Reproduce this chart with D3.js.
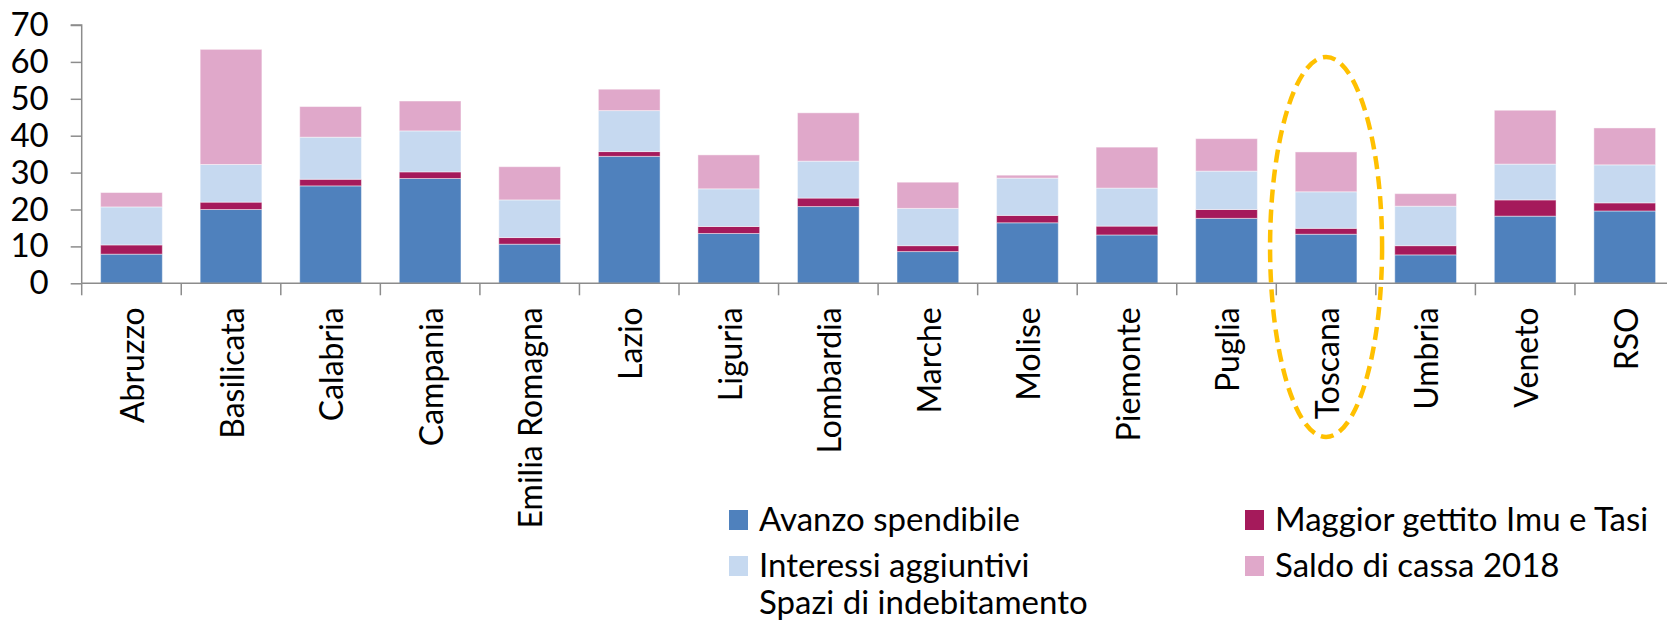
<!DOCTYPE html>
<html>
<head>
<meta charset="utf-8">
<script src="https://cdn.jsdelivr.net/npm/d3@7"></script>
<style>
  html, body { margin: 0; padding: 0; background: #fff; }
  svg { display: block; font-family: Lato, 'Open Sans', sans-serif; }
</style>
</head>
<body>
<svg id="chart" width="1667" height="623"></svg>
<script>
const regions = ['Abruzzo', 'Basilicata', 'Calabria', 'Campania', 'Emilia Romagna', 'Lazio', 'Liguria',
  'Lombardia', 'Marche', 'Molise', 'Piemonte', 'Puglia', 'Toscana', 'Umbria', 'Veneto', 'RSO'];

// stacked bottom -> top
const avanzo   = [7.9, 20.0, 26.4, 28.4, 10.6, 34.4, 13.5, 20.8, 8.6, 16.4, 13.1, 17.6, 13.3, 7.7, 18.2, 19.6];
const imuTasi  = [2.5, 2.0, 1.8, 1.8, 1.8, 1.3, 1.9, 2.3, 1.6, 2.0, 2.4, 2.4, 1.6, 2.5, 4.4, 2.2];
const interessi = [10.3, 10.2, 11.4, 11.1, 10.2, 11.1, 10.2, 10.0, 10.1, 10.1, 10.3, 10.4, 9.9, 10.7, 9.7, 10.3];
const saldo    = [3.9, 31.2, 8.3, 8.1, 9.0, 5.8, 9.2, 13.1, 7.1, 0.8, 11.1, 8.8, 10.8, 3.4, 14.6, 10.0];

const yTicks = [0, 10, 20, 30, 40, 50, 60, 70];
const highlighted = 'Toscana';

const seriesKeys = ['avanzo', 'imuTasi', 'interessi', 'saldo'];
const seriesColors = { avanzo: '#4f81bd', imuTasi: '#a51a5b', interessi: '#c6d9f0', saldo: '#e0a8ca' };

// legend, row by row like the original
const legendItems = [
  { label: 'Avanzo spendibile', color: '#4f81bd' },
  { label: 'Maggior gettito Imu e Tasi', color: '#a51a5b' },
  { label: 'Interessi aggiuntivi', color: '#c6d9f0' },
  { label: 'Saldo di cassa 2018', color: '#e0a8ca' },
  { label: 'Spazi di indebitamento', color: null },
];

const table = regions.map((name, i) => ({
  name, avanzo: avanzo[i], imuTasi: imuTasi[i], interessi: interessi[i], saldo: saldo[i],
}));

const svg = d3.select('#chart');
const axisColor = '#8c8c8c';
const fontSize = 32;

const left = 81.7;
const step = 99.55;
const x = d3.scaleBand()
  .domain(regions)
  .range([left, left + step * regions.length])
  .paddingInner(0.38)
  .paddingOuter(0.19);

const y = d3.scaleLinear().domain([0, 70]).range([283.3, 25]);

const stack = d3.stack().keys(seriesKeys)(table);

svg.append('g')
  .selectAll('g')
  .data(stack)
  .join('g')
  .attr('fill', (d) => seriesColors[d.key])
  .selectAll('rect')
  .data((d) => d)
  .join('rect')
  .attr('x', (d) => x(d.data.name))
  .attr('width', x.bandwidth())
  .attr('y', (d) => y(d[1]))
  .attr('height', (d) => y(d[0]) - y(d[1]))
  .attr('stroke', '#ffffff')
  .attr('stroke-opacity', 0.45)
  .attr('stroke-width', 1);

// y axis
const yAxis = svg.append('g')
  .attr('transform', `translate(${left},0)`)
  .call(d3.axisLeft(y).tickValues(yTicks).tickSize(11).tickPadding(22).tickFormat(d3.format('d')));
yAxis.select('.domain').attr('stroke', axisColor).attr('stroke-width', 1.5).attr('d', `M-11,${y(70)}H0V${y(0)}`);
yAxis.selectAll('.tick line').attr('stroke', axisColor).attr('stroke-width', 1.5);
yAxis.selectAll('.tick text')
  .attr('fill', '#000')
  .attr('font-size', 33)
  .attr('font-family', 'Lato, sans-serif');

// x axis: ticks at category boundaries
const xAxisG = svg.append('g');
xAxisG.append('line')
  .attr('x1', left).attr('x2', 1667)
  .attr('y1', y(0)).attr('y2', y(0))
  .attr('stroke', axisColor).attr('stroke-width', 1.5);
xAxisG.selectAll('line.tk')
  .data(regions)
  .join('line')
  .attr('class', 'tk')
  .attr('x1', (d) => x(d) - x.step() * x.paddingOuter())
  .attr('x2', (d) => x(d) - x.step() * x.paddingOuter())
  .attr('y1', y(0)).attr('y2', y(0) + 12)
  .attr('stroke', axisColor).attr('stroke-width', 1.5);

xAxisG.selectAll('text')
  .data(regions)
  .join('text')
  .attr('transform', (d) => `translate(${x(d) + x.bandwidth() / 2},${y(0) + 24}) rotate(-90)`)
  .attr('text-anchor', 'end')
  .attr('dy', '0.4em')
  .attr('font-size', fontSize)
  .attr('fill', '#000')
  .text((d) => d);

// highlight ellipse around Toscana
svg.append('ellipse')
  .attr('cx', x(highlighted) + x.bandwidth() / 2)
  .attr('cy', 247)
  .attr('rx', 56)
  .attr('ry', 190)
  .attr('fill', 'none')
  .attr('stroke', '#ffc000')
  .attr('stroke-width', 4.5)
  .attr('stroke-dasharray', '13 7');

// legend
const colX = [729, 1245];
const rowBase = [531, 577, 614];
const legend = svg.append('g')
  .selectAll('g')
  .data(legendItems)
  .join('g')
  .attr('transform', (d, i) => `translate(${colX[i % 2]},${rowBase[Math.floor(i / 2)]})`);

legend.filter((d) => d.color)
  .append('rect')
  .attr('x', 0).attr('y', -21)
  .attr('width', 19).attr('height', 20)
  .attr('fill', (d) => d.color);

legend.append('text')
  .attr('x', 30)
  .attr('font-size', 33)
  .attr('fill', '#000')
  .text((d) => d.label);
</script>
</body>
</html>
